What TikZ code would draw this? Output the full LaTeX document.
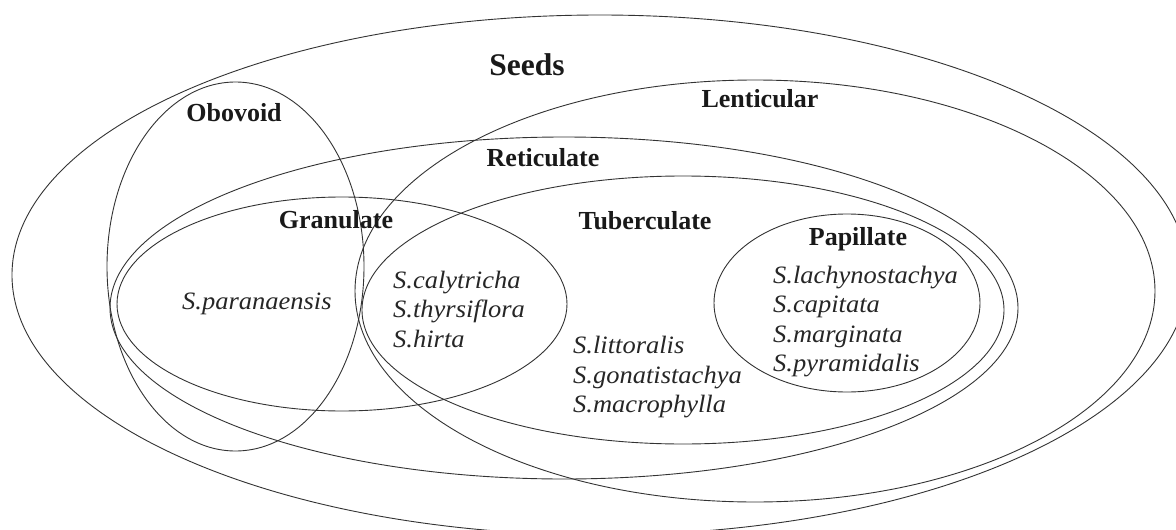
\documentclass[tikz,border=0pt]{standalone}
\usepackage{fontspec}
\setmainfont{Liberation Serif}
\newfontfamily\spfont[FakeStretch=1.06]{Liberation Serif}
\tikzset{
  setline/.style={draw=black!80, line width=0.9pt},
  lab/.style={font=\bfseries\fontsize{26}{30}\selectfont, anchor=base, inner sep=0pt, text=black!90},
  biglab/.style={lab, font=\bfseries\fontsize{31.5}{36}\selectfont},
  sp/.style={font=\spfont\itshape\fontsize{25}{30}\selectfont, anchor=base west, inner sep=0pt, text=black!85},
}
\begin{document}
\begin{tikzpicture}[x=1pt,y=-1pt]
\useasboundingbox (0,0) rectangle (1176,530);
\fill[white] (0,0) rectangle (1176,530);
% sets
\draw[setline] (600,275) ellipse [x radius=588, y radius=260];   % Seeds
\draw[setline] (235.5,266.5) ellipse [x radius=128.5, y radius=184.5]; % Obovoid
\draw[setline] (755,291) ellipse [x radius=400, y radius=211];   % Lenticular
\draw[setline] (564,308) ellipse [x radius=454, y radius=171];   % Reticulate
\draw[setline] (342,304) ellipse [x radius=225, y radius=107];   % Granulate
\draw[setline] (683,310) ellipse [x radius=321, y radius=134];   % Tuberculate
\draw[setline] (847,303) ellipse [x radius=133, y radius=89];    % Papillate
% labels
\node[biglab] (seeds) at (527,75) {Seeds};
\node[lab] (obo) at (234,121) {Obovoid};
\node[lab] (len) at (760,107) {Lenticular};
\node[lab] (ret) at (543,166) {Reticulate};
\node[lab] (gra) at (336,228) {Granulate};
\node[lab] (tub) at (645,229) {Tuberculate};
\node[lab] (pap) at (858,245) {Papillate};
% species
\node[sp] (s1) at (182,309) {S.paranaensis};
\node[sp] (s2) at (393,288) {S.calytricha};
\node[sp] (s3) at (393,317.5) {S.thyrsiflora};
\node[sp] (s4) at (393,347) {S.hirta};
\node[sp] (s5) at (573,353) {S.littoralis};
\node[sp] (s6) at (573,383) {S.gonatistachya};
\node[sp] (s7) at (573,412) {S.macrophylla};
\node[sp] (s8) at (773,283) {S.lachynostachya};
\node[sp] (s9) at (773,312.5) {S.capitata};
\node[sp] (s10) at (773,342) {S.marginata};
\node[sp] (s11) at (773,371) {S.pyramidalis};
\end{tikzpicture}
\end{document}
